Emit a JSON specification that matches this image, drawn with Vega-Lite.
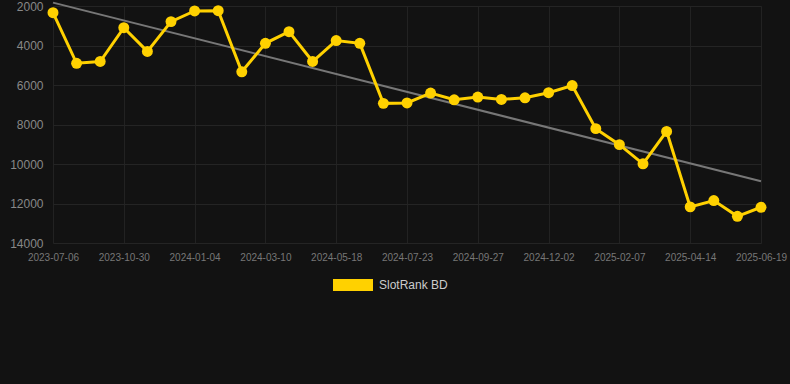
{
  "$schema": "https://vega.github.io/schema/vega-lite/v6.json",
  "autosize": {"type": "none"},
  "width": 708,
  "height": 237,
  "padding": {"left": 53, "top": 6, "right": 29, "bottom": 141},
  "background": "#121212",
  "config": {
    "view": {"stroke": null},
    "font": "Liberation Sans",
    "axis": {"labelOverlap": false, "labelBound": false},
    "axisY": {"labelOverlap": false}
  },
  "datasets": {
    "ranks": [
      {"date": "2023-07-06", "rank": 2340, "series": "SlotRank BD"},
      {"date": "2023-08-13", "rank": 4900, "series": "SlotRank BD"},
      {"date": "2023-09-21", "rank": 4810, "series": "SlotRank BD"},
      {"date": "2023-10-30", "rank": 3100, "series": "SlotRank BD"},
      {"date": "2023-11-21", "rank": 4300, "series": "SlotRank BD"},
      {"date": "2023-12-13", "rank": 2790, "series": "SlotRank BD"},
      {"date": "2024-01-04", "rank": 2250, "series": "SlotRank BD"},
      {"date": "2024-01-26", "rank": 2240, "series": "SlotRank BD"},
      {"date": "2024-02-17", "rank": 5330, "series": "SlotRank BD"},
      {"date": "2024-03-10", "rank": 3890, "series": "SlotRank BD"},
      {"date": "2024-04-02", "rank": 3300, "series": "SlotRank BD"},
      {"date": "2024-04-25", "rank": 4810, "series": "SlotRank BD"},
      {"date": "2024-05-18", "rank": 3750, "series": "SlotRank BD"},
      {"date": "2024-06-09", "rank": 3890, "series": "SlotRank BD"},
      {"date": "2024-07-01", "rank": 6930, "series": "SlotRank BD"},
      {"date": "2024-07-23", "rank": 6910, "series": "SlotRank BD"},
      {"date": "2024-08-14", "rank": 6410, "series": "SlotRank BD"},
      {"date": "2024-09-05", "rank": 6750, "series": "SlotRank BD"},
      {"date": "2024-09-27", "rank": 6610, "series": "SlotRank BD"},
      {"date": "2024-10-19", "rank": 6730, "series": "SlotRank BD"},
      {"date": "2024-11-10", "rank": 6650, "series": "SlotRank BD"},
      {"date": "2024-12-02", "rank": 6390, "series": "SlotRank BD"},
      {"date": "2024-12-24", "rank": 6030, "series": "SlotRank BD"},
      {"date": "2025-01-16", "rank": 8210, "series": "SlotRank BD"},
      {"date": "2025-02-07", "rank": 9020, "series": "SlotRank BD"},
      {"date": "2025-03-01", "rank": 9990, "series": "SlotRank BD"},
      {"date": "2025-03-23", "rank": 8350, "series": "SlotRank BD"},
      {"date": "2025-04-14", "rank": 12170, "series": "SlotRank BD"},
      {"date": "2025-05-06", "rank": 11850, "series": "SlotRank BD"},
      {"date": "2025-05-28", "rank": 12650, "series": "SlotRank BD"},
      {"date": "2025-06-19", "rank": 12190, "series": "SlotRank BD"}
    ],
    "trend": [
      {"date": "2023-07-06", "rank": 1830},
      {"date": "2025-06-19", "rank": 10870}
    ]
  },
  "encoding": {
    "x": {
      "field": "date", "type": "ordinal", "sort": null,
      "scale": {
        "type": "point", "padding": 0,
        "domain": ["2023-07-06", "2023-08-13", "2023-09-21", "2023-10-30", "2023-11-21", "2023-12-13", "2024-01-04", "2024-01-26", "2024-02-17", "2024-03-10", "2024-04-02", "2024-04-25", "2024-05-18", "2024-06-09", "2024-07-01", "2024-07-23", "2024-08-14", "2024-09-05", "2024-09-27", "2024-10-19", "2024-11-10", "2024-12-02", "2024-12-24", "2025-01-16", "2025-02-07", "2025-03-01", "2025-03-23", "2025-04-14", "2025-05-06", "2025-05-28", "2025-06-19"]
      },
      "axis": {
        "title": null,
        "values": ["2023-07-06", "2023-10-30", "2024-01-04", "2024-03-10", "2024-05-18", "2024-07-23", "2024-09-27", "2024-12-02", "2025-02-07", "2025-04-14", "2025-06-19"],
        "labelAngle": 0,
        "labelFontSize": 10,
        "labelColor": "#777777",
        "labelPadding": 9,
        "labelOverlap": false,
        "tickSize": 0,
        "domain": false,
        "grid": true,
        "gridColor": "#222222",
        "gridWidth": 1
      }
    },
    "y": {
      "field": "rank", "type": "quantitative",
      "scale": {"domain": [2000, 14000], "reverse": true, "nice": false, "zero": false},
      "axis": {
        "title": null,
        "values": [2000, 4000, 6000, 8000, 10000, 12000, 14000],
        "format": "d",
        "labelOverlap": false,
        "labelFontSize": 12,
        "labelColor": "#888888",
        "labelPadding": 10,
        "tickSize": 0,
        "domain": false,
        "grid": true,
        "gridColor": "#242424",
        "gridWidth": 1
      }
    }
  },
  "layer": [
    {
      "data": {"name": "trend"},
      "mark": {"type": "line", "color": "#777777", "strokeWidth": 2}
    },
    {
      "data": {"name": "ranks"},
      "mark": {"type": "line", "strokeWidth": 3, "point": {"filled": true, "size": 120, "opacity": 1}},
      "encoding": {
        "color": {
          "field": "series", "type": "nominal",
          "scale": {"range": ["#FFD100"]},
          "legend": {
            "title": null,
            "orient": "none",
            "legendX": 280,
            "legendY": 259,
            "symbolType": "M-1,-0.3H1V0.3H-1Z",
            "symbolSize": 1600,
            "labelFontSize": 12,
            "labelColor": "#cccccc",
            "labelOffset": 6,
            "encode": {
              "symbols": {"update": {"fill": {"value": "#FFD100"}, "stroke": {"value": "#FFD100"}, "strokeWidth": {"value": 0}, "opacity": {"value": 1}}}
            }
          }
        }
      }
    }
  ]
}
